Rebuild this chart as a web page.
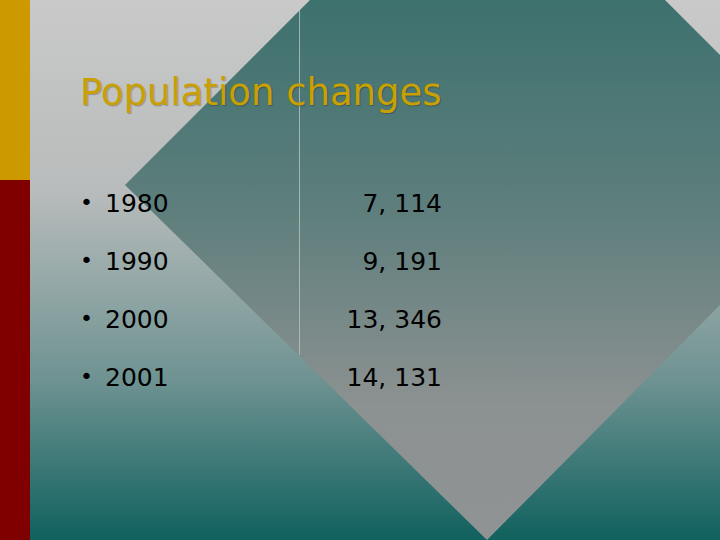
<!DOCTYPE html>
<html lang="en">
<head>
<meta charset="UTF-8">
<script src="https://cdn.jsdelivr.net/npm/chart.js"></script>
<style>
    html, body { margin: 0; padding: 0; }
    #slide {
        position: relative;
        width: 720px;
        height: 540px;
        overflow: hidden;
        background: linear-gradient(to bottom, #c9c9c9 0%, #b9bcbc 35%, #6f9392 70%, #10615f 100%);
        font-family: 'DejaVu Sans', sans-serif;
    }
    .bar-top { position: absolute; left: 0; top: 0; width: 30px; height: 180px; background: #cc9900; }
    .bar-bottom { position: absolute; left: 0; top: 180px; width: 30px; height: 360px; background: #800000; }
    #diamond {
        position: absolute; left: 0; top: 0; width: 720px; height: 540px;
        background: linear-gradient(to bottom, #3d716e 0%, #5f7f7d 40%, #8c9191 75%, #8f9393 100%);
        clip-path: polygon(125px 185px, 310px 0px, 665px 0px, 720px 55px, 720px 305px, 487px 540px);
    }
    .vline { position: absolute; left: 299px; top: 10px; width: 1px; height: 345px; background: #b7c4c3; opacity: 0.8; }
    h1 {
        position: absolute; left: 80px; top: 71px; margin: 0;
        font-weight: normal; font-size: 37px; color: #c9a000;
        font-family: 'DejaVu Sans', sans-serif;
        text-shadow: 1px 1px 1px rgba(0,0,0,0.25);
    }
    .row { position: absolute; left: 80px; width: 362px; height: 40px; font-size: 25px; color: #000;
           font-family: 'DejaVu Sans', sans-serif; }
    .row .year::before { content: "\2022"; font-size: 22px; margin-right: 12px; position: relative; top: -2px; }
    .row .val { position: absolute; right: 0; top: 0; }
</style>
</head>
<body>
<div id="slide">
    <div class="bar-top"></div>
    <div class="bar-bottom"></div>
    <div id="diamond"></div>
    <div class="vline"></div>
    <h1>Population changes</h1>
    <div id="rows"></div>
</div>
<script>
    const years = ['1980', '1990', '2000', '2001'];
    const population = ['7, 114', '9, 191', '13, 346', '14, 131'];

    const rowsDiv = document.getElementById('rows');
    years.forEach((y, i) => {
        const row = document.createElement('div');
        row.className = 'row';
        row.style.top = (189 + i * 58) + 'px';
        row.innerHTML = `<span class="year">${y}</span><span class="val">${population[i]}</span>`;
        rowsDiv.appendChild(row);
    });
</script>
</body>
</html>
